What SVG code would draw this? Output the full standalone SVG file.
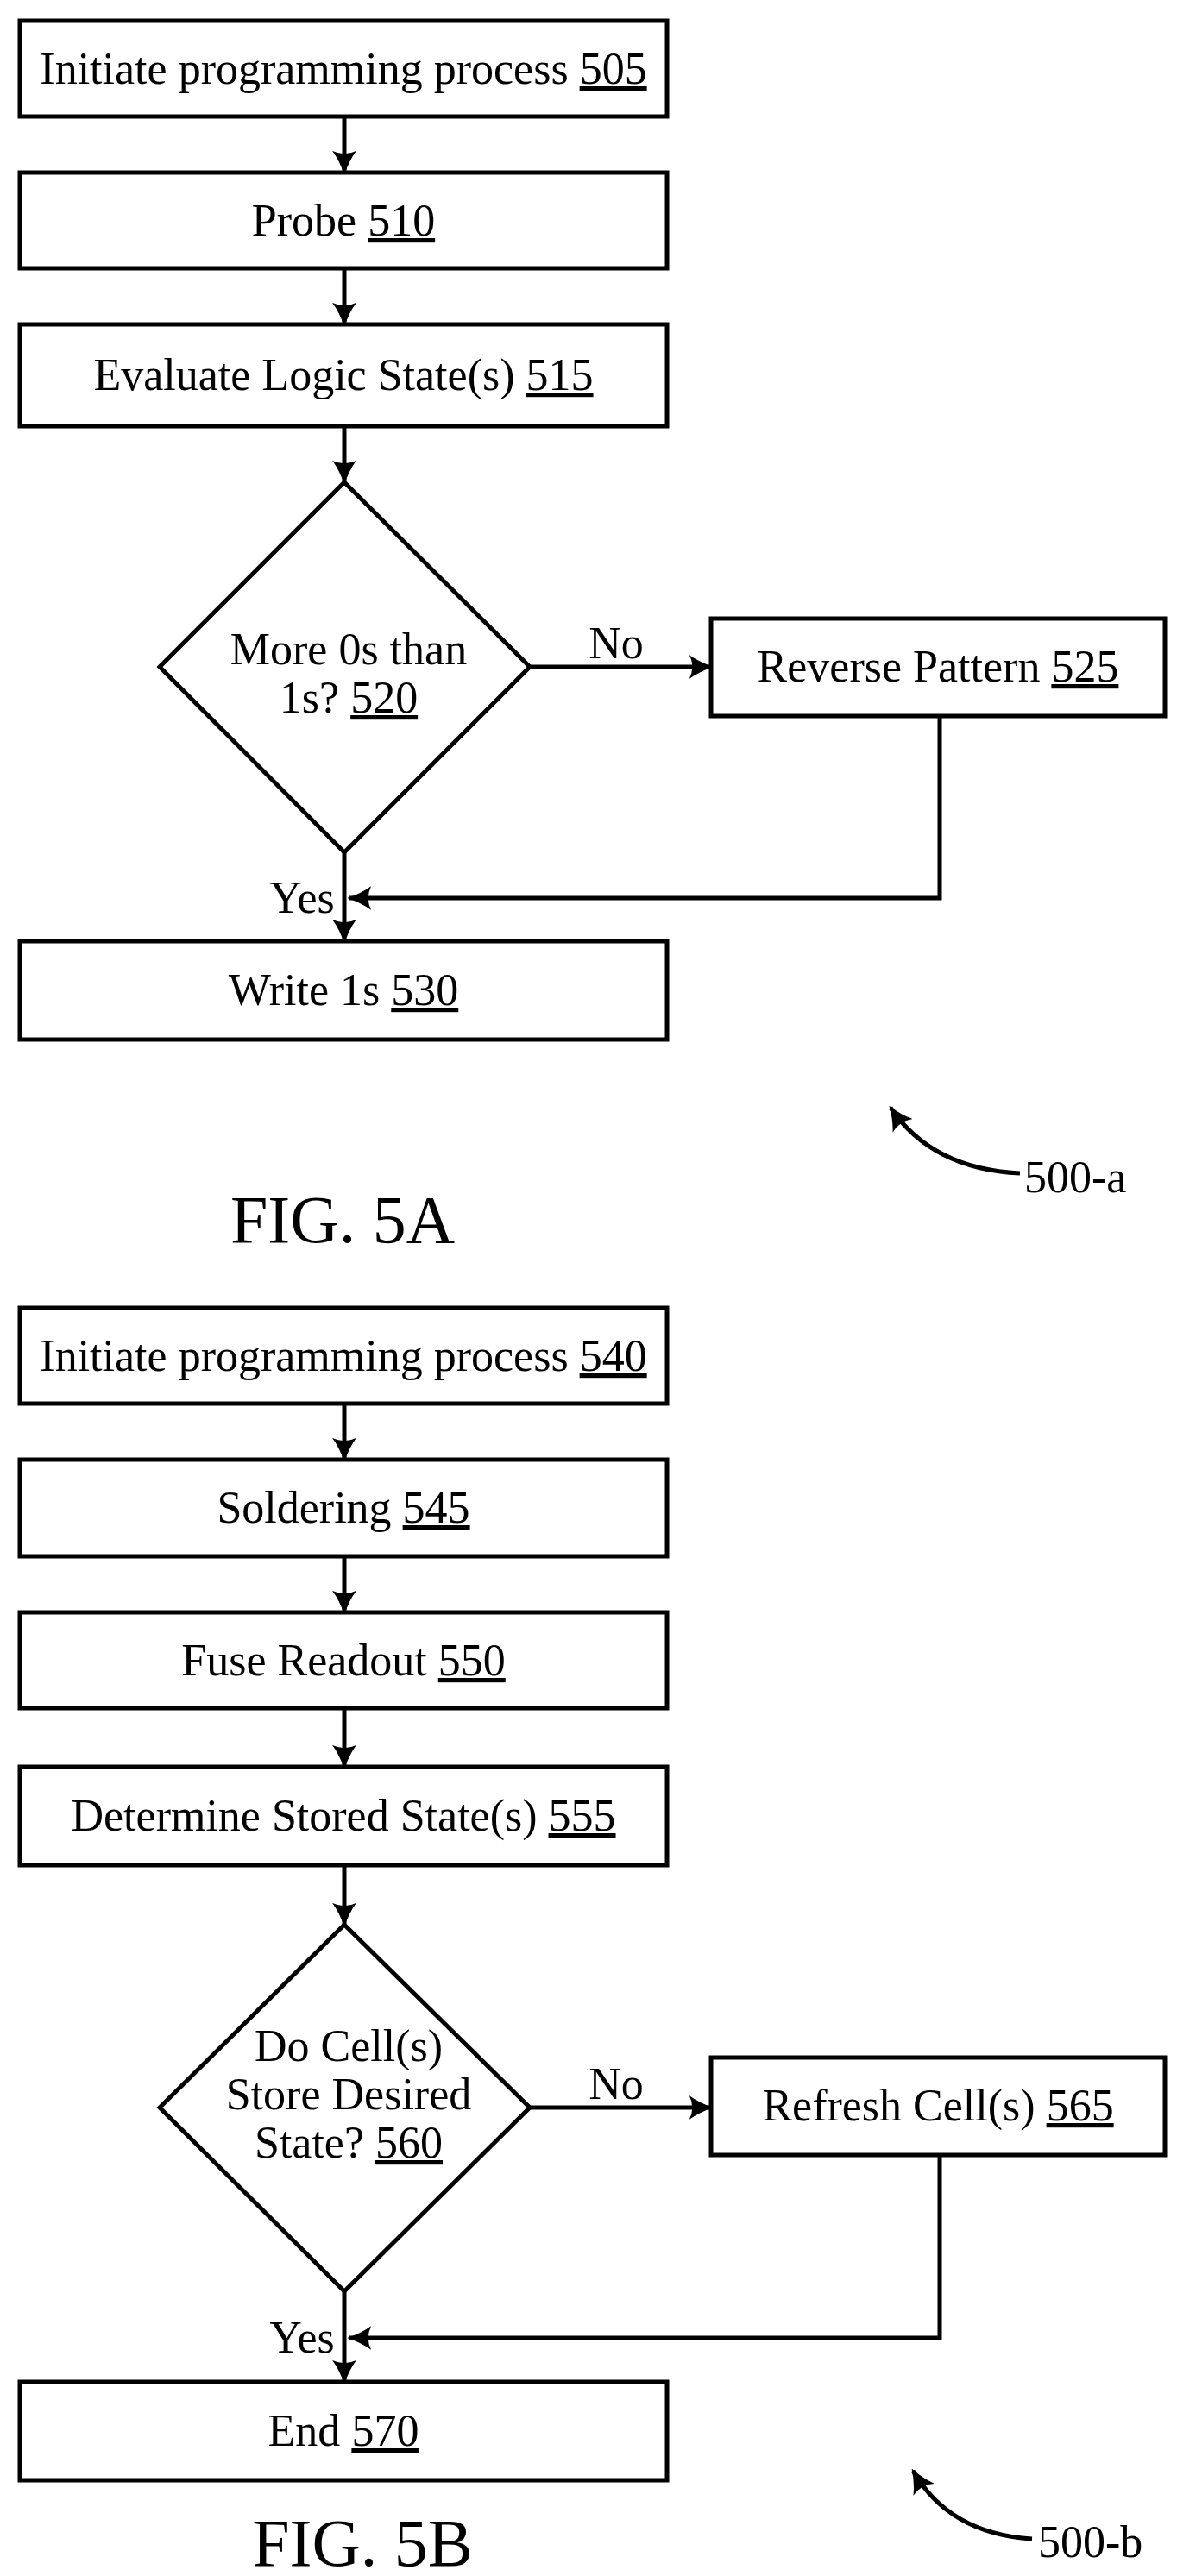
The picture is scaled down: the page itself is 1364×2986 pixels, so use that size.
<svg xmlns="http://www.w3.org/2000/svg" width="1364" height="2986" viewBox="0 0 1364 2986">
<style>
.b{fill:#fff;stroke:#000;stroke-width:5}
.c{fill:none;stroke:#000;stroke-width:5}
text{font-family:"Liberation Serif","Times New Roman",serif;font-size:52px;fill:#000;text-anchor:middle}
.u{text-decoration:underline}
.f{font-size:78px}
.r{text-anchor:start}
</style>
<defs>
<marker id="s" viewBox="0 0 20 20" refX="18" refY="10" markerWidth="28" markerHeight="28" markerUnits="userSpaceOnUse" orient="auto">
<path d="M0,0 Q8,6 20,10 Q8,14 0,20 Q5,10 0,0Z" fill="#000"/>
</marker>
</defs>
<g id="connectors">
<path class="c" d="M399,135 V200" marker-end="url(#s)"/>
<path class="c" d="M399,311 V376" marker-end="url(#s)"/>
<path class="c" d="M399,494 V559" marker-end="url(#s)"/>
<path class="c" d="M614,773 H824" marker-end="url(#s)"/>
<path class="c" d="M1089,830 V1041 H405" marker-end="url(#s)"/>
<path class="c" d="M399,988 V1091" marker-end="url(#s)"/>
<path class="c" d="M1182,1360 Q1080,1355 1032,1284" marker-end="url(#s)"/>
<path class="c" d="M399,1627 V1692" marker-end="url(#s)"/>
<path class="c" d="M399,1804 V1869" marker-end="url(#s)"/>
<path class="c" d="M399,1980 V2048" marker-end="url(#s)"/>
<path class="c" d="M399,2162 V2231" marker-end="url(#s)"/>
<path class="c" d="M614,2443 H824" marker-end="url(#s)"/>
<path class="c" d="M1089,2498 V2710 H405" marker-end="url(#s)"/>
<path class="c" d="M399,2656 V2761" marker-end="url(#s)"/>
<path class="c" d="M1196,2943 Q1100,2937 1058,2864" marker-end="url(#s)"/>
</g>
<g id="n505"><rect class="b" x="23" y="24" width="750" height="111"/><text x="398" y="97">Initiate programming process <tspan class="u">505</tspan></text></g>
<g id="n510"><rect class="b" x="23" y="200" width="750" height="111"/><text x="398" y="273">Probe <tspan class="u">510</tspan></text></g>
<g id="n515"><rect class="b" x="23" y="376" width="750" height="118"/><text x="398" y="452">Evaluate Logic State(s) <tspan class="u">515</tspan></text></g>
<g id="n520"><polygon class="b" points="399,559 614,773 399,988 185,773"/><text x="404" y="770">More 0s than</text><text x="404" y="826">1s? <tspan class="u">520</tspan></text></g>
<text x="714" y="763">No</text>
<g id="n525"><rect class="b" x="824" y="717" width="526" height="113"/><text x="1087" y="790">Reverse Pattern <tspan class="u">525</tspan></text></g>
<text x="350" y="1058">Yes</text>
<g id="n530"><rect class="b" x="23" y="1091" width="750" height="114"/><text x="398" y="1165">Write 1s <tspan class="u">530</tspan></text></g>
<text class="r" x="1187" y="1382">500-a</text>
<text class="f" x="397" y="1440">FIG. 5A</text>

<g id="n540"><rect class="b" x="23" y="1516" width="750" height="111"/><text x="398" y="1589">Initiate programming process <tspan class="u">540</tspan></text></g>
<g id="n545"><rect class="b" x="23" y="1692" width="750" height="112"/><text x="398" y="1765">Soldering <tspan class="u">545</tspan></text></g>
<g id="n550"><rect class="b" x="23" y="1869" width="750" height="111"/><text x="398" y="1942">Fuse Readout <tspan class="u">550</tspan></text></g>
<g id="n555"><rect class="b" x="23" y="2048" width="750" height="114"/><text x="398" y="2122">Determine Stored State(s) <tspan class="u">555</tspan></text></g>
<g id="n560"><polygon class="b" points="399,2231 614,2443 399,2656 185,2443"/><text x="404" y="2389">Do Cell(s)</text><text x="404" y="2445">Store Desired</text><text x="404" y="2501">State? <tspan class="u">560</tspan></text></g>
<text x="714" y="2433">No</text>
<g id="n565"><rect class="b" x="824" y="2385" width="526" height="113"/><text x="1087" y="2458">Refresh Cell(s) <tspan class="u">565</tspan></text></g>
<text x="350" y="2727">Yes</text>
<g id="n570"><rect class="b" x="23" y="2761" width="750" height="114"/><text x="398" y="2835">End <tspan class="u">570</tspan></text></g>
<text class="r" x="1203" y="2964">500-b</text>
<text class="f" x="420" y="2974">FIG. 5B</text>
</svg>
